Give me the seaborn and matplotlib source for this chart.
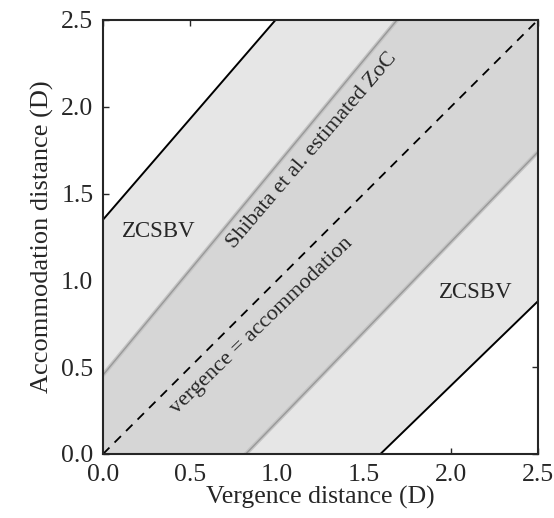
import matplotlib
matplotlib.use('Agg')
import matplotlib.pyplot as plt
import seaborn as sns
import pandas as pd

# endpoints of each boundary line (vergence 0 D and 2.5 D)
vergence = [0.0, 2.5]
zcsbv_near = [1.35, 4.25]
zcsbv_far = [-1.55, 0.88]
zoc_near = [0.455, 3.48]
zoc_far = [-0.85, 1.74]
identity = [0.0, 2.5]

ticks = [0.0, 0.5, 1.0, 1.5, 2.0, 2.5]

sns.set_style('ticks')
plt.rcParams['font.family'] = ['Liberation Serif', 'DejaVu Serif']

df = pd.DataFrame({'vergence': vergence, 'zcsbv_near': zcsbv_near,
                   'zcsbv_far': zcsbv_far, 'zoc_near': zoc_near,
                   'zoc_far': zoc_far, 'identity': identity})

fig = plt.figure(figsize=(5.54, 5.18), dpi=100)
ax = fig.add_axes([0.186, 0.1236, 0.785, 0.8378])

ax.fill_between(df['vergence'], df['zcsbv_far'], df['zcsbv_near'], color='#e6e6e6', lw=0)
ax.fill_between(df['vergence'], df['zoc_far'], df['zoc_near'], color='#d6d6d6', lw=0)

sns.lineplot(data=df, x='vergence', y='zcsbv_near', ax=ax, color='black', lw=1.4)
sns.lineplot(data=df, x='vergence', y='zcsbv_far', ax=ax, color='black', lw=1.4)
for col in ['zoc_near', 'zoc_far']:
    sns.lineplot(data=df, x='vergence', y=col, ax=ax, color='#c4c4c4', lw=3)
    sns.lineplot(data=df, x='vergence', y=col, ax=ax, color='#999999', lw=1)
sns.lineplot(data=df, x='vergence', y='identity', ax=ax, color='black', lw=1.3, linestyle=(0, (5, 4)))

ax.text(0.32, 1.28, 'ZCSBV', fontsize=16.5, ha='center', va='center')
ax.text(2.14, 0.93, 'ZCSBV', fontsize=16.5, ha='center', va='center')
ax.text(1.20, 1.75, 'Shibata et al. estimated ZoC', fontsize=16, rotation=49.5,
        rotation_mode='anchor', ha='center', va='center')
ax.text(0.91, 0.74, 'vergence = accommodation', fontsize=16, rotation=44,
        rotation_mode='anchor', ha='center', va='center')

ax.set_xlim(0, 2.5)
ax.set_ylim(0, 2.5)
ax.set_xticks(ticks)
ax.set_yticks(ticks)
ax.set_xticklabels([f'{t:.1f}' for t in ticks])
ax.set_yticklabels([f'{t:.1f}' for t in ticks])
ax.tick_params(direction='in', length=4, width=1, labelsize=18.5, top=True, right=True, pad=7)
for s in ax.spines.values():
    s.set_linewidth(1.5)
ax.set_xlabel('Vergence distance (D)', fontsize=18.5, labelpad=0)
ax.set_ylabel('Accommodation distance (D)', fontsize=19, labelpad=5)

fig.savefig('out.png', dpi=100)
